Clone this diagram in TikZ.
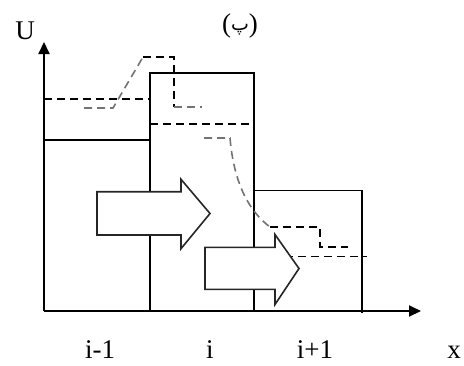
\documentclass[tikz,border=0pt]{standalone}
\usepackage{fontspec}
\setmainfont{Liberation Serif}
\newfontfamily\arabicfont[Script=Arabic]{DejaVu Sans}
\TeXXeTstate=1
\usetikzlibrary{arrows.meta}
\begin{document}
\begin{tikzpicture}[x=1pt,y=-1pt,
  axisline/.style={line width=2pt,-{Triangle[length=12pt,width=11pt]}},
  boxline/.style={line width=1.6pt},
  dline/.style={line width=1.6pt,dash pattern=on 8pt off 5pt},
  gline/.style={line width=1.6pt,dash pattern=on 8pt off 5pt,draw=black!55},
  bigarrow/.style={line width=1.6pt,fill=white,draw=black!85},
  lbl/.style={font=\fontsize{27}{30}\selectfont,inner sep=0pt,anchor=base}]
\useasboundingbox (0,0) rectangle (464,365);
% coordinates
\coordinate (O) at (44,311);
\coordinate (Ytip) at (44,42);
\coordinate (Xtip) at (421,311);
% boxes
\draw[boxline] (44,140) -- (150,140) -- (150,311);
\draw[boxline] (150,311) -- (150,73) -- (254,73) -- (254,311);
\draw[boxline] (254,190.5) -- (362,190.5) -- (362,313);
% dashed levels
\draw[dline] (44,99) -- (150,99);
\draw[dline] (150,124) -- (254,124);
\draw[dline] (285,256.5) -- (367,256.5);
% dashed profiles
\draw[gline] (84,108) -- (113,108) -- (143,57);
\draw[dline] (143,57) -- (174,57) -- (174,107);
\draw[gline] (174,107) -- (202,107);
\draw[gline] (204,138) -- (230,138) .. controls (234,185) and (250,212) .. (270,227);
\draw[dline] (270,227) -- (320,227) -- (320,247) -- (348,247);
% block arrows
\draw[bigarrow] (97,191.7) -- (181,191.7) -- (181,179.3) -- (210,213.5) -- (181,248.7) -- (181,235) -- (97,235) -- cycle;
\draw[bigarrow] (205,247.3) -- (275,247.3) -- (275,234.5) -- (299,268.5) -- (275,304.5) -- (275,289.3) -- (205,289.3) -- cycle;
% axes
\draw[axisline] (O) -- (Ytip);
\draw[axisline] (O) -- (Xtip);
% labels
\node[lbl] (U) at (25,39) {U};
\node[lbl] (X) at (454,358) {x};
\node[lbl] (L1) at (100,358) {i-1};
\node[lbl] (L2) at (210,358) {i};
\node[lbl] (L3) at (315,358) {i+1};
\node[lbl] (T) at (240,32) {(\raisebox{2pt}{\arabicfont\fontsize{19}{20}\selectfont\beginR پ\endR})};
\end{tikzpicture}
\end{document}
